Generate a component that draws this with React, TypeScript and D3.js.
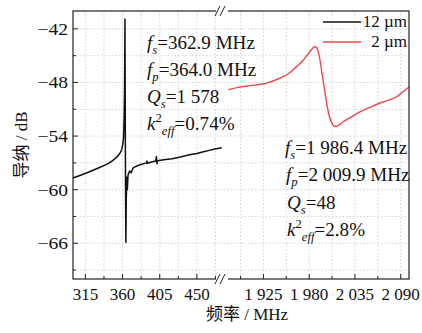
import * as d3 from "d3"

// 12 µm device (left segment, MHz / dB)
const blackFreq = [
  300, 310, 320, 330, 340, 345, 350, 354, 357, 359, 360.3, 361.2, 362, 362.5, 362.9, 363.2, 363.6, 364.0,
  364.5, 365.2, 365.8, 366.6, 368.5, 370.5, 372.5, 376, 381, 389, 389.5, 390, 395, 400, 401, 401.6, 402.2,
  410, 420, 430, 441, 450, 458, 465, 472, 480,
]
const blackDb = [
  -58.7, -58.35, -58.0, -57.6, -57.2, -56.95, -56.6, -56.25, -55.9, -55.5, -54.9, -54.2, -51.6, -48, -40.9,
  -50, -60, -65.9, -61, -58.6, -60.0, -58.4, -57.9, -58.1, -57.6, -57.4, -57.2, -57.0, -56.8, -57.05, -56.9,
  -56.8, -56.3, -57.1, -56.75, -56.65, -56.55, -56.35, -56.1, -55.95, -55.75, -55.6, -55.45, -55.3,
]

// 2 µm device (right segment)
const redFreq = [
  1883, 1895, 1905, 1913, 1922, 1930, 1940, 1950, 1958, 1965, 1972, 1978, 1983, 1986.4, 1989, 1991, 1993,
  1995, 1998, 2001, 2004, 2007, 2010, 2013, 2017, 2021, 2030, 2041, 2053, 2065, 2075, 2085, 2092, 2100,
]
const redDb = [
  -48.8, -48.55, -48.4, -48.3, -48.2, -48.05, -47.7, -47.3, -46.8, -46.2, -45.6, -44.9, -44.3, -44.0, -44.1,
  -44.6, -45.5, -46.7, -48.5, -50.3, -51.7, -52.5, -52.9, -52.9, -52.7, -52.4, -51.9, -51.3, -50.8, -50.3,
  -50.0, -49.6, -49.1, -48.5,
]

const yTicks = [-66, -60, -54, -48, -42]
const yMinor = [-69, -63, -57, -51, -45]
const xLeftTicks = [315, 360, 405, 450]
const xLeftMinor = [337.5, 382.5, 427.5, 472.5]
const xRightTicks = [1925, 1980, 2035, 2090]
const xRightLabels = ["1 925", "1 980", "2 035", "2 090"]
const xRightMinor = [1897.5, 1952.5, 2007.5, 2062.5]

const W = 422
const H = 333
const L = 73
const R = 409
const T = 11
const B = 279
const SERIF = "Liberation Serif, DejaVu Serif, serif"
const CJK = "Noto Sans CJK SC, sans-serif"
const RED = "#e8474b"

const y = d3.scaleLinear().domain([-70, -40]).range([B, T])
const xL = d3.scaleLinear().domain([300, 480]).range([L, 221.7])
const xR = d3.scaleLinear().domain([1880, 2100]).range([226, R])

// the source figure's lettering is a bit wider than Liberation Serif
function Note({ x, yb, f, s, rest }: { x: number; yb: number; f: string; s: string; rest: string }) {
  return (
    <text transform={`translate(${x},${yb}) scale(1.06,1)`} style={{ fontFamily: SERIF, fontSize: 18 }} fill="#111">
      <tspan fontStyle="italic">{f}</tspan>
      <tspan dy={5} fontSize={12} fontStyle="italic">{s}</tspan>
      <tspan dy={-5}>{rest}</tspan>
    </text>
  )
}

function KNote({ x, yb, rest }: { x: number; yb: number; rest: string }) {
  return (
    <text transform={`translate(${x},${yb}) scale(1.06,1)`} style={{ fontFamily: SERIF, fontSize: 18 }} fill="#111">
      <tspan fontStyle="italic">k</tspan>
      <tspan dy={-8} fontSize={12}>2</tspan>
      <tspan dy={13} fontSize={12} fontStyle="italic">eff</tspan>
      <tspan dy={-5}>{rest}</tspan>
    </text>
  )
}

export default function App() {
  const blackLine = d3
    .line<number>()
    .x((d, i) => xL(blackFreq[i]))
    .y((d) => y(d))
  const redLine = d3
    .line<number>()
    .x((d, i) => xR(redFreq[i]))
    .y((d) => y(d))
    .curve(d3.curveMonotoneX)

  const vGrid = [
    ...[...xLeftTicks, ...xLeftMinor].map((v) => xL(v)),
    ...[...xRightTicks, ...xRightMinor].map((v) => xR(v)),
  ]
  const hGrid = [...yTicks, ...yMinor].map((v) => y(v))

  const breakMark = (yy: number) => (
    <g stroke="#222" strokeWidth={1}>
      <rect x={216} y={yy - 2} width={12} height={4} fill="white" stroke="none" />
      <line x1={215} y1={yy + 5} x2={220} y2={yy - 5} />
      <line x1={220} y1={yy + 5} x2={225} y2={yy - 5} />
    </g>
  )

  const tickText = { fontFamily: SERIF, fontSize: 17 }

  return (
    <svg width={W} height={H} style={{ position: "absolute", left: 0, top: 0, background: "white" }}>
      {/* grid */}
      <g stroke="#c8c8c8" strokeWidth={0.8} strokeDasharray="1.5,2">
        {vGrid.map((gx, i) => (
          <line key={"v" + i} x1={gx} x2={gx} y1={T} y2={B} />
        ))}
        {hGrid.map((gy, i) => (
          <line key={"h" + i} x1={L} x2={R} y1={gy} y2={gy} />
        ))}
      </g>

      {/* data */}
      <path d={blackLine(blackDb) || ""} fill="none" stroke="#111" strokeWidth={1.5} strokeLinejoin="round" />
      <path d={redLine(redDb) || ""} fill="none" stroke={RED} strokeWidth={1.4} />

      {/* frame */}
      <rect x={L} y={T} width={R - L} height={B - T} fill="none" stroke="#222" strokeWidth={1.2} />

      {/* ticks, all pointing inward */}
      <g stroke="#222" strokeWidth={1}>
        {yTicks.map((v) => (
          <line key={v} x1={L} x2={L + 5} y1={y(v)} y2={y(v)} />
        ))}
        {yMinor.map((v) => (
          <line key={v} x1={L} x2={L + 3} y1={y(v)} y2={y(v)} />
        ))}
        {xLeftTicks.map((v) => (
          <line key={v} x1={xL(v)} x2={xL(v)} y1={B} y2={B - 5} />
        ))}
        {xLeftMinor.map((v) => (
          <line key={v} x1={xL(v)} x2={xL(v)} y1={B} y2={B - 3} />
        ))}
        {xRightTicks.map((v) => (
          <line key={v} x1={xR(v)} x2={xR(v)} y1={B} y2={B - 5} />
        ))}
        {xRightMinor.map((v) => (
          <line key={v} x1={xR(v)} x2={xR(v)} y1={B} y2={B - 3} />
        ))}
      </g>

      {breakMark(T)}
      {breakMark(B)}

      {/* tick labels */}
      <g fill="#111">
        {yTicks.map((v) => (
          <text
            key={v}
            transform={`translate(${L - 5},${y(v)}) scale(1.15,1)`}
            dy="0.35em"
            textAnchor="end"
            style={tickText}
          >
            {"\u2212" + Math.abs(v)}
          </text>
        ))}
        {xLeftTicks.map((v) => (
          <text key={v} x={xL(v)} y={300} textAnchor="middle" style={tickText}>
            {v}
          </text>
        ))}
        {xRightTicks.map((v, i) => (
          <text key={v} x={xR(v)} y={300} textAnchor="middle" style={tickText}>
            {xRightLabels[i]}
          </text>
        ))}
      </g>

      {/* axis titles */}
      <text x={247} y={320} textAnchor="middle" fontSize={17} fill="#111">
        <tspan style={{ fontFamily: CJK }}>频率</tspan>
        <tspan style={{ fontFamily: SERIF }}> / MHz</tspan>
      </text>
      <text transform="translate(27,145) rotate(-90)" textAnchor="middle" fontSize={17} fill="#111">
        <tspan style={{ fontFamily: CJK }}>导纳</tspan>
        <tspan style={{ fontFamily: SERIF }}> / dB</tspan>
      </text>

      {/* legend */}
      <line x1={323} x2={361} y1={22} y2={22} stroke="#111" strokeWidth={1.5} />
      <text x={407} y={27} textAnchor="end" style={tickText} fill="#111">
        12 µm
      </text>
      <line x1={323} x2={361} y1={42} y2={42} stroke={RED} strokeWidth={1.5} />
      <text x={407} y={47} textAnchor="end" style={tickText} fill="#111">
        2 µm
      </text>

      {/* annotations */}
      <Note x={147} yb={49} f="f" s="s" rest="=362.9 MHz" />
      <Note x={147} yb={76} f="f" s="p" rest="=364.0 MHz" />
      <Note x={147} yb={103} f="Q" s="s" rest="=1 578" />
      <KNote x={147} yb={130} rest="=0.74%" />

      <Note x={285} yb={154} f="f" s="s" rest="=1 986.4 MHz" />
      <Note x={286} yb={181} f="f" s="p" rest="=2 009.9 MHz" />
      <Note x={287} yb={209} f="Q" s="s" rest="=48" />
      <KNote x={287} yb={236} rest="=2.8%" />
    </svg>
  )
}
